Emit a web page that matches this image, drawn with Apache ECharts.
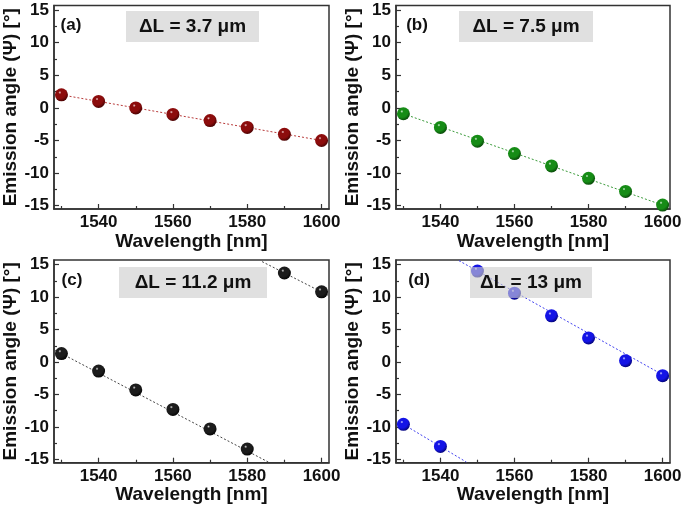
<!DOCTYPE html>
<html>
<head>
<meta charset="utf-8">
<script src="https://cdn.jsdelivr.net/npm/echarts@6/dist/echarts.min.js"></script>
<style>
html,body{margin:0;padding:0;background:#fff;}
#chart{width:685px;height:509px;}
</style>
</head>
<body>
<div id="chart"></div>
<script>
// ---- data ----
const wavelengths = [1530, 1540, 1550, 1560, 1570, 1580, 1590, 1600];
const angleA = [2.0, 1.0, 0.0, -1.0, -1.95, -3.0, -4.05, -5.0];
const angleB = [-0.9, -3.0, -5.1, -7.0, -8.9, -10.8, -12.8, -14.9];
const angleC = [1.3, -1.4, -4.3, -7.3, -10.3, -13.4, 13.7, 10.8];
const angleD = [-9.6, -13.0, 14.0, 10.6, 7.1, 3.7, 0.2, -2.1];
// fitted lines (end points)
const fitA = [[[1529, 2.1], [1601.5, -5.15]]];
const fitB = [[[1529, -0.7], [1601.5, -15.2]]];
const fitC = [[[1528, 1.9], [1586, -15.5]], [[1584, 15.45], [1602, 10.2]]];
const fitD = [[[1530, -9.6], [1547, -15.4]], [[1545, 15.6], [1602, -2.6]]];
const panelLetters = ['(a)', '(b)', '(c)', '(d)'];
const panelLabels = ['ΔL = 3.7 μm', 'ΔL = 7.5 μm', 'ΔL = 11.2 μm', 'ΔL = 13 μm'];
const xMajorTicks = [1540, 1560, 1580, 1600];
const xMinorTicks = [1530, 1550, 1570, 1590];
const yMajorTicks = [-15, -10, -5, 0, 5, 10, 15];
const yMinorTicks = [-12.5, -7.5, -2.5, 2.5, 7.5, 12.5];
const xName = 'Wavelength [nm]';
const yName = 'Emission angle (Ψ) [°]';

// ---- layout / style ----
const grids = [
  {left: 54, top: 5.5, width: 275, height: 203.5},
  {left: 396, top: 5.5, width: 274, height: 203.5},
  {left: 54, top: 260, width: 275, height: 202.7},
  {left: 396, top: 260, width: 274, height: 202.7}
];
const boxes = [
  {x: 126, y: 11, w: 133, h: 31},
  {x: 459, y: 11, w: 134, h: 31},
  {x: 119, y: 267, w: 148, h: 31},
  {x: 470, y: 267, w: 122, h: 31}
];
const letterPos = [[71, 25], [417, 25], [72, 280], [419, 280]];
const colors = [
  {hi: '#f0d0d0', base: '#8c0c0c', dark: '#3a0000', line: '#b83a3a'},
  {hi: '#d8f2d8', base: '#168c16', dark: '#053a05', line: '#3a9a3a'},
  {hi: '#dcdcdc', base: '#1c1c1c', dark: '#000000', line: '#444444'},
  {hi: '#d8d8ff', base: '#1414e6', dark: '#000060', line: '#4040ee'}
];
const angles = [angleA, angleB, angleC, angleD];
const fits = [fitA, fitB, fitC, fitD];
const XMIN = 1528, XMAX = 1602, YMIN = -15.5, YMAX = 15.7;
const axisColor = '#333';
const FONT = '"Liberation Sans", Arial, sans-serif';
const plain = v => String(v);

const xAxes = [], yAxes = [], series = [], graphic = [];
for (let i = 0; i < 4; i++) {
  xAxes.push({
    type: 'value', gridIndex: i, min: XMIN, max: XMAX,
    name: xName, nameLocation: 'middle', nameGap: 19,
    nameTextStyle: {fontFamily: FONT, fontWeight: 'bold', fontSize: 19, color: '#111'},
    axisLine: {show: true, onZero: false, lineStyle: {color: axisColor, width: 1.5}},
    axisTick: {show: true, inside: true, length: 5, customValues: xMajorTicks, lineStyle: {color: axisColor, width: 1.2}},
    axisLabel: {customValues: xMajorTicks, formatter: plain, margin: 5, fontFamily: FONT, fontWeight: 'bold', fontSize: 17, color: '#111'},
    splitLine: {show: false}
  });
  yAxes.push({
    type: 'value', gridIndex: i, min: YMIN, max: YMAX,
    name: yName, nameLocation: 'middle', nameGap: 31, nameRotate: 90,
    nameTextStyle: {fontFamily: FONT, fontWeight: 'bold', fontSize: 19, color: '#111'},
    axisLine: {show: true, onZero: false, lineStyle: {color: axisColor, width: 1.5}},
    axisTick: {show: true, inside: true, length: 5, customValues: yMajorTicks, lineStyle: {color: axisColor, width: 1.2}},
    axisLabel: {customValues: yMajorTicks, formatter: plain, margin: 5, fontFamily: FONT, fontWeight: 'bold', fontSize: 17, color: '#111'},
    splitLine: {show: false}
  });
}
for (let i = 0; i < 4; i++) {
  xAxes.push({
    type: 'value', gridIndex: i, min: XMIN, max: XMAX, position: 'bottom',
    axisLine: {show: false, onZero: false},
    axisTick: {show: true, inside: true, length: 3, customValues: xMinorTicks, lineStyle: {color: axisColor, width: 1.2}},
    axisLabel: {show: false}, splitLine: {show: false}
  });
  yAxes.push({
    type: 'value', gridIndex: i, min: YMIN, max: YMAX, position: 'left',
    axisLine: {show: false, onZero: false},
    axisTick: {show: true, inside: true, length: 3, customValues: yMinorTicks, lineStyle: {color: axisColor, width: 1.2}},
    axisLabel: {show: false}, splitLine: {show: false}
  });
}

for (let i = 0; i < 4; i++) {
  const c = colors[i];
  fits[i].forEach(seg => {
    series.push({
      type: 'line', xAxisIndex: i, yAxisIndex: i, data: seg,
      symbol: 'none', clip: true, z: 2, silent: true,
      lineStyle: {color: c.line, width: 1, type: [2, 2]}
    });
  });
  series.push({
    type: 'scatter', xAxisIndex: i, yAxisIndex: i,
    data: wavelengths.map((w, k) => [w, angles[i][k]]),
    symbolSize: 13, z: 3, clip: false,
    itemStyle: {
      opacity: 1,
      color: {
        type: 'radial', x: 0.38, y: 0.32, r: 0.75,
        colorStops: [
          {offset: 0, color: c.hi},
          {offset: 0.16, color: c.base},
          {offset: 0.6, color: c.base},
          {offset: 1, color: c.dark}
        ]
      }
    }
  });
  const b = boxes[i];
  graphic.push({
    type: 'rect', z: 100,
    shape: {x: b.x, y: b.y, width: b.w, height: b.h},
    style: {fill: 'rgba(205,205,205,0.62)'}
  });
  graphic.push({
    type: 'text', z: 101,
    x: b.x + b.w / 2, y: b.y + b.h / 2,
    style: {text: panelLabels[i], fill: '#111', font: 'bold 19px ' + FONT, align: 'center', verticalAlign: 'middle'}
  });
  graphic.push({
    type: 'text', z: 101,
    x: letterPos[i][0], y: letterPos[i][1],
    style: {text: panelLetters[i], fill: '#111', font: 'bold 17px ' + FONT, align: 'center', verticalAlign: 'middle'}
  });
}

const chart = echarts.init(document.getElementById('chart'), null, {renderer: 'canvas'});
chart.setOption({
  backgroundColor: '#fff',
  animation: false,
  grid: grids.map(g => Object.assign({show: true, borderColor: axisColor, borderWidth: 1.5, backgroundColor: 'transparent', containLabel: false}, g)),
  xAxis: xAxes,
  yAxis: yAxes,
  series: series,
  graphic: graphic
});
</script>
</body>
</html>
